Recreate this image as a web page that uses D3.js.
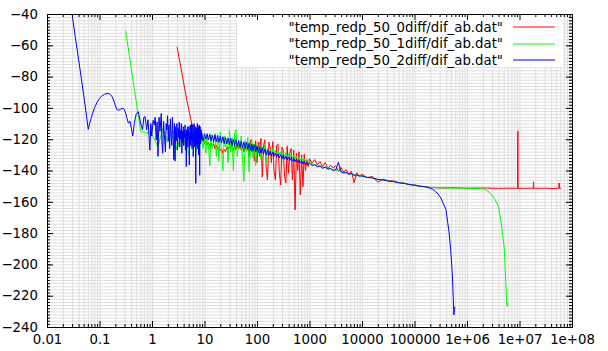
<!DOCTYPE html>
<html>
<head>
<meta charset="utf-8">
<script src="https://cdn.jsdelivr.net/npm/d3@7"></script>
<style>
body{margin:0;background:#fff}
svg{display:block}
</style>
</head>
<body>
<svg id="chart"></svg>
<script>
/* axis ticks */
const xTicks = [0.01, 0.1, 1, 10, 100, 1000, 1e4, 1e5, 1e6, 1e7, 1e8]
const xTickLabels = ['0.01','0.1','1','10','100','1000','10000','100000','1e+06','1e+07','1e+08']
const yTicks = [-240,-220,-200,-180,-160,-140,-120,-100,-80,-60,-40]

/* series */
const seriesNames = ['"temp_redp_50_0diff/dif_ab.dat"','"temp_redp_50_1diff/dif_ab.dat"','"temp_redp_50_2diff/dif_ab.dat"']
const seriesColors = ['#ff0000','#00ff00','#0000ff']

/* first part of each curve, [x, y] */
const redStart = [[3.0,-60.9],[4.6,-95],[5.7,-109.8],[6.6,-119],[7.2,-121],[7.8,-120],[8.4,-122]]

const greenStart = [[0.315,-50.9],[0.61,-115.2],[0.75,-115.5],[0.85,-116],[1.0,-117],[1.3,-125],[1.6,-113],
  [2.0,-122],[2.5,-114],[3.0,-127],[3.5,-118],[4,-124],[4.5,-116],[5,-130],[5.5,-119],[6,-122],[6.5,-115],
  [7,-128],[7.5,-118],[8,-125],[8.5,-119]]

const blueStart = [[0.026,-25],[0.03,-40],[0.035,-56],[0.04,-69],[0.045,-81],[0.05,-92],[0.055,-102],[0.061,-113.7],
  [0.065,-110],[0.07,-106],[0.08,-100],[0.09,-96.5],[0.1,-94],[0.11,-92.5],[0.125,-91.2],[0.147,-90.7],[0.16,-91.3],
  [0.175,-93],[0.19,-96],[0.205,-99.5],[0.216,-101.2],[0.235,-101.5],[0.26,-100.5],[0.285,-100.3],[0.31,-102.5],
  [0.33,-106],[0.355,-109.8],[0.38,-108.5],[0.41,-114],[0.43,-118],[0.46,-110],[0.5,-104],[0.55,-102.4],[0.6,-109],
  [0.66,-114],[0.7,-106],[0.74,-105.6],[0.79,-114],[0.84,-107.6],[0.91,-127],[0.95,-110],[0.99,-118],[1.05,-108],
  [1.1,-111],[1.15,-106],[1.2,-120.5],[1.25,-109],[1.3,-131],[1.36,-106],[1.42,-115],[1.5,-103.5],[1.55,-123],
  [1.6,-129],[1.66,-108.5],[1.72,-117],[1.8,-128],[1.86,-110],[1.92,-114],[1.98,-105],[2.04,-121],[2.1,-111],
  [2.17,-126],[2.24,-107],[2.3,-116],[2.38,-124],[2.45,-106],[2.52,-117],[2.6,-133],[2.68,-110],[2.75,-134],
  [2.82,-112],[2.9,-121],[2.98,-110],[3.06,-127],[3.14,-113],[3.22,-119],[3.3,-109],[3.38,-125],[3.46,-114],
  [3.54,-120],[3.62,-110],[3.7,-129],[3.78,-115],[3.86,-122],[3.94,-112],[4.02,-124],[4.1,-114],[4.18,-119],
  [4.26,-111],[4.34,-127],[4.42,-116],[4.5,-137.5],[4.58,-114],[4.66,-121],[4.74,-112],[4.82,-125],[4.9,-115],
  [4.98,-120],[5.06,-112],[5.14,-136.5],[5.22,-116],[5.3,-122],[5.38,-111],[5.46,-124],[5.54,-115],[5.62,-120],
  [5.7,-110],[5.78,-126],[5.86,-116],[5.94,-121],[6.02,-111],[6.1,-131],[6.18,-116],[6.26,-120],[6.34,-110],
  [6.42,-125],[6.5,-115],[6.58,-121],[6.66,-112],[6.74,-127],[6.82,-148.2],[6.9,-117],[6.98,-113],[7.06,-124],
  [7.14,-115],[7.22,-120],[7.3,-110],[7.38,-126],[7.46,-116],[7.54,-121],[7.62,-112],[7.7,-130],[7.78,-116],
  [7.86,-120],[7.94,-111],[8.02,-124],[8.1,-143],[8.18,-119],[8.26,-112],[8.34,-123],[8.42,-116],[8.5,-121],
  [8.6,-114],[8.7,-120]]

/* middle part, shared x values */
const bandFreq = [
  8.9, 9.4, 10, 10.6, 11.2, 11.9, 12.6, 13.3, 14.1, 15.0,
  15.8, 16.8, 17.8, 18.8, 20.0, 21.1, 22.4, 23.7, 25.1, 26.6,
  28.2, 29.9, 31.6, 33.5, 35.5, 37.6, 39.8, 42.2, 44.7, 47.3,
  50.1, 53.1, 56.2, 59.6, 63.1, 66.8, 70.8, 75.0, 79.4, 84.1,
  89.1, 94.4, 100, 106, 112, 119, 126, 133, 141, 150,
  158, 168, 178, 188, 200, 211, 224, 237, 251, 266,
  282, 299, 316, 335, 355, 376, 398, 422, 447, 473,
  501, 531, 562, 596, 631, 668, 708, 750, 794, 841,
  891, 944, 1000, 1122, 1259, 1413, 1585, 1778, 1995, 2239,
  2512, 2818, 3162, 3548, 3981, 4467, 5012, 5623, 6310, 7079,
  7943, 8913, 10000, 12589, 15849, 19953, 25119, 31623, 39811, 50119,
  63096, 79433, 100000, 125893, 158489, 199526]

const redBand = [
  -121.5, -120, -123, -121, -123.5, -122, -124, -122.5, -125, -123,
  -126, -124, -126.5, -125, -127.5, -126, -129, -126.5, -128, -125,
  -127, -124.5, -126, -124, -127, -124, -126.5, -123.5, -126, -124,
  -127, -124.5, -128, -125, -127, -124, -131, -120.5, -128, -123,
  -134, -121, -135, -122, -131, -119.5, -144, -124, -120.5, -138,
  -146, -122, -125, -135, -121.5, -140, -146, -124, -123, -141,
  -149.3, -125, -127, -144, -148, -124.5, -141.8, -129, -126, -146,
  -127, -165.2, -129, -140, -128, -155.6, -130, -150.3, -129.5, -140,
  -133, -137.5, -132.5, -135.5, -133, -136.5, -134.4, -137.5, -135, -139,
  -136.5, -138.5, -137, -140.5, -138, -141, -139.5, -142.5, -140.5, -148,
  -141.5, -143.5, -142.5, -144.5, -143.8, -147.5, -145.5, -146.5, -146.6, -147.8,
  -148, -148.9, -149.2, -150, -150.3, -150.8]

const greenBand = [
  -121, -126, -119, -129, -118, -124, -137, -117, -126, -120,
  -116.5, -131, -119, -134, -115.5, -127, -140, -118, -125, -121,
  -135, -114.5, -128, -119, -140, -116, -114, -131, -122, -126,
  -118, -133, -147, -121, -128, -119, -141, -125, -120, -132,
  -123, -137, -124, -129, -122, -133, -125, -128, -124, -135,
  -126, -130, -127, -130, -126, -129.5, -127, -129.5, -127.5, -130,
  -128, -130.5, -128.5, -131, -129, -131.5, -129.5, -131.7, -130, -132,
  -130.5, -132.5, -131, -133, -131.5, -133.5, -132, -134, -132.5, -134.3,
  -133.5, -135.5, -134.5, -136.4, -136.3, -137.2, -137, -138, -137.9, -138.8,
  -138.8, -139.6, -139.6, -140.3, -140.6, -141.3, -141.4, -142.1, -142.1, -142.8,
  -142.8, -143.4, -143.5, -144.3, -144.8, -145.6, -146.1, -146.6, -147.1, -147.7,
  -148.3, -148.9, -149.4, -150, -150.4, -150.8]

const blueBand = [
  -116, -121, -116.5, -120, -116.5, -120.5, -117, -121, -117.5, -121.5,
  -117.2, -121.5, -117.5, -122, -118, -122.3, -118.5, -122.8, -118.8, -123,
  -119.2, -123.5, -119.5, -124, -120, -124.3, -120.3, -124.8, -120.8, -125.2,
  -121.3, -125.6, -121.7, -126, -122, -126.5, -122.6, -127, -123.2, -127.6,
  -123.8, -128, -124.5, -128.5, -125, -129, -125.6, -129.6, -126.3, -130,
  -127, -130.4, -127.6, -130.7, -128.2, -131, -128.8, -131.5, -129.3, -132,
  -129.8, -132.5, -130.3, -132.8, -130.8, -133.2, -131.3, -133.6, -131.8, -134,
  -132.3, -134.4, -132.8, -134.9, -133.3, -135.3, -133.8, -135.8, -134.3, -136.2,
  -134.8, -136.6, -135.4, -136.8, -136.3, -137.6, -137.1, -138.6, -137.9, -139.2,
  -138.8, -140, -139.6, -134.8, -140.9, -141.6, -141.3, -142.4, -142, -143.1,
  -142.8, -143.6, -143.5, -144.5, -144.8, -145.8, -146, -146.8, -147.1, -147.9,
  -148.2, -149, -149.4, -150.1, -150.4, -151.3]

/* last part of each curve, [x, y] */
const redEnd = [[251189,-151],[316228,-151.2],[501187,-151],[1e6,-151.3],[2e6,-151.2],[3.98e6,-151.4],[6.3e6,-151.3],
  [9.2e6,-151.4],[9.3e6,-114.8],[9.4e6,-151.4],[1.83e7,-151.3],[1.85e7,-147.2],[1.87e7,-151.4],[3e7,-151.3],
  [4.5e7,-151.5],[5.6e7,-151.3],[5.7e7,-148],[5.8e7,-151.4],[6.2e7,-151.4]]

const greenEnd = [[251189,-151],[398107,-151.2],[630957,-151.3],[1e6,-151.4],[1584893,-151.5],[2089296,-151.8],
  [2630268,-153.7],[3311311,-157.8],[3981072,-163],[4466836,-173.5],[5128614,-189.7],[5495409,-212],
  [5754399,-227],[6025596,-224.8]]

const blueEnd = [[223872,-152],[251189,-153.5],[281838,-155],[316228,-157.5],[398107,-165],[457088,-180],
  [489779,-191],[524807,-205.7],[562341,-232.3],[575440,-229],[588844,-227]]

/* dimensions */
const width = 608, height = 351
const margin = {top: 14, right: 36, bottom: 24, left: 47}
const plotW = width - margin.left - margin.right
const plotH = height - margin.top - margin.bottom
const fontFamily = '"DejaVu Sans", sans-serif'
const fontSize = 13.3

let svg = d3.select('#chart')
            .attr('width', width)
            .attr('height', height)

const xScale = d3.scaleLog()
                 .domain([0.01, 1e8])
                 .range([margin.left, width - margin.right])

const yScale = d3.scaleLinear()
                 .domain([-240, -40])
                 .range([height - margin.bottom, margin.top])

/* minor ticks : 2..9 per decade, every 2 on y */
const xMinor = []
xTicks.slice(0, -1).forEach(t => {
    for (let m = 2; m < 10; m++) xMinor.push(t * m)
})
const yMinor = d3.range(-240, -39, 2)

const joinParts = (start, band, end) => start.concat(band.map((v, i) => [bandFreq[i], v]), end)

const series = [
    joinParts(redStart, redBand, redEnd),
    joinParts(greenStart, greenBand, greenEnd),
    joinParts(blueStart, blueBand, blueEnd)
]

/* light grid */
const drawGrid = () => {
    const g = svg.append('g').attr('class', 'grid')
    g.append('g')
     .attr('transform', 'translate(0,' + (height - margin.bottom) + ')')
     .call(d3.axisBottom(xScale).tickValues(xMinor.concat(xTicks)).tickSize(-plotH).tickFormat(''))
    g.append('g')
     .attr('transform', 'translate(' + margin.left + ',0)')
     .call(d3.axisLeft(yScale).tickValues(yMinor).tickSize(-plotW).tickFormat(''))
    g.selectAll('.domain').remove()
    g.selectAll('line').attr('stroke', '#dedede')
}

/* white box behind the key */
const drawKeyBox = () => {
    svg.append('rect')
       .attr('x', 237).attr('y', 15)
       .attr('width', 326).attr('height', 52)
       .attr('fill', '#fff')
}

/* curves */
const drawLines = () => {
    svg.append('clipPath').attr('id', 'plotClip')
       .append('rect')
       .attr('x', margin.left).attr('y', margin.top)
       .attr('width', plotW).attr('height', plotH)

    const line = d3.line()
                   .x(d => xScale(d[0]))
                   .y(d => yScale(d[1]))

    svg.append('g')
       .attr('clip-path', 'url(#plotClip)')
       .selectAll('path')
       .data(series)
       .enter()
       .append('path')
       .attr('d', line)
       .attr('fill', 'none')
       .attr('stroke', (d, i) => seriesColors[i])
       .attr('stroke-width', 1)
}

/* border, ticks on all sides, labels */
const drawAxes = () => {
    const axes = svg.append('g').attr('class', 'axes')

    const bottom = axes.append('g')
                       .attr('transform', 'translate(0,' + (height - margin.bottom) + ')')
    bottom.call(d3.axisBottom(xScale).tickValues(xTicks).tickFormat((d, i) => xTickLabels[i]).tickSize(-6).tickPadding(8))
    bottom.append('g').call(d3.axisBottom(xScale).tickValues(xMinor).tickSize(-3).tickFormat(''))

    const top = axes.append('g')
                    .attr('transform', 'translate(0,' + margin.top + ')')
    top.call(d3.axisTop(xScale).tickValues(xTicks).tickSize(-6).tickFormat(''))
    top.append('g').call(d3.axisTop(xScale).tickValues(xMinor).tickSize(-3).tickFormat(''))

    const left = axes.append('g')
                     .attr('transform', 'translate(' + margin.left + ',0)')
    left.call(d3.axisLeft(yScale).tickValues(yTicks).tickSize(-6).tickPadding(9))
    left.append('g').call(d3.axisLeft(yScale).tickValues(yMinor).tickSize(-3).tickFormat(''))

    const right = axes.append('g')
                      .attr('transform', 'translate(' + (width - margin.right) + ',0)')
    right.call(d3.axisRight(yScale).tickValues(yTicks).tickSize(-6).tickFormat(''))
    right.append('g').call(d3.axisRight(yScale).tickValues(yMinor).tickSize(-3).tickFormat(''))

    axes.selectAll('.domain').remove()
    axes.selectAll('.tick line').attr('stroke', '#000')
    axes.selectAll('.tick text')
        .attr('font-family', fontFamily)
        .attr('font-size', fontSize)
        .attr('fill', '#000')

    axes.append('rect')
        .attr('x', margin.left + 0.5).attr('y', margin.top + 0.5)
        .attr('width', plotW).attr('height', plotH)
        .attr('fill', 'none')
        .attr('stroke', '#000')
}

/* key */
const drawKey = () => {
    const key = svg.append('g').attr('class', 'key')
    seriesNames.forEach((name, i) => {
        const yy = 27 + i * 16.5
        key.append('text')
           .attr('x', 503).attr('y', yy)
           .attr('dy', '0.35em')
           .attr('text-anchor', 'end')
           .attr('font-family', fontFamily)
           .attr('font-size', fontSize)
           .attr('fill', '#000')
           .text(name)
        key.append('path')
           .attr('d', 'M513,' + Math.round(yy) + 'H555')
           .attr('fill', 'none')
           .attr('stroke', seriesColors[i])
           .attr('stroke-width', 1)
    })
}

drawGrid()
drawKeyBox()
drawLines()
drawAxes()
drawKey()
</script>
</body>
</html>
